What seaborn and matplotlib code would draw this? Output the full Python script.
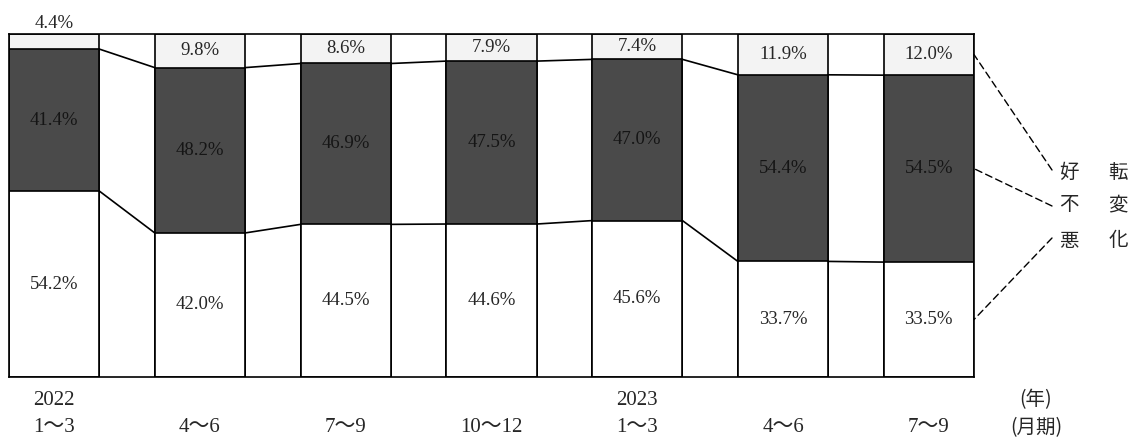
import numpy as np
import pandas as pd
import matplotlib
matplotlib.use('Agg')
import matplotlib.pyplot as plt
import seaborn as sns

# データ（%）
years = ['2022', '', '', '', '2023', '', '']
periods = ['1〜3', '4〜6', '7〜9', '10〜12', '1〜3', '4〜6', '7〜9']
good = [4.4, 9.8, 8.6, 7.9, 7.4, 11.9, 12.0]      # 好転
same = [41.4, 48.2, 46.9, 47.5, 47.0, 54.4, 54.5]  # 不変
bad = [54.2, 42.0, 44.5, 44.6, 45.6, 33.7, 33.5]   # 悪化

sns.set_style('white')
plt.rcParams['font.family'] = ['Liberation Serif', 'Noto Sans CJK JP', 'DejaVu Sans']

keys = [f'{y} {p} {i}' for i, (y, p) in enumerate(zip(years, periods))]
df = pd.DataFrame({'key': keys, 'good': good, 'same': same, 'bad': bad})
df['total'] = df['good'] + df['same'] + df['bad']
df['mid_top'] = df['bad'] + df['same']

W, H = 1132, 441
fig = plt.figure(figsize=(W / 100, H / 100), dpi=100)
ax = fig.add_axes([9 / W, (H - 377) / H, (974 - 9) / W, (377 - 34) / H])

bw = 0.62
edge = dict(edgecolor='black', linewidth=1.2)
# 積み上げ：上から重ねて描く
sns.barplot(data=df, x='key', y='total', color='#f3f3f3', width=bw, ax=ax, **edge)
sns.barplot(data=df, x='key', y='mid_top', color='#4a4a4a', width=bw, ax=ax, **edge)
sns.barplot(data=df, x='key', y='bad', color='white', width=bw, ax=ax, **edge)
for p in ax.patches:
    p.set_edgecolor('black')
    p.set_linewidth(1.2)
    p.set_alpha(1)

# 棒の間の連結線
n = len(df)
for i in range(n - 1):
    x0, x1 = i + bw / 2, i + 1 - bw / 2
    for col in ['bad', 'mid_top']:
        ax.plot([x0, x1], [df[col][i], df[col][i + 1]], color='black', lw=1.2)

# 数値ラベル
fs = 13.5
for i in range(n):
    ax.text(i, bad[i] / 2, f'{bad[i]:.1f}%', ha='center', va='center', fontsize=fs)
    ax.text(i, bad[i] + same[i] / 2, f'{same[i]:.1f}%', ha='center', va='center',
            fontsize=fs, color='#151515')
    if good[i] < 6:
        ax.text(i, 100.6, f'{good[i]:.1f}%', ha='center', va='bottom', fontsize=fs, clip_on=False)
    else:
        ax.text(i, 100 - good[i] / 2, f'{good[i]:.1f}%', ha='center', va='center', fontsize=fs)

ax.set_xlim(-bw / 2, n - 1 + bw / 2)
ax.set_ylim(0, 100)
ax.set_yticks([])
ax.set_xticks(range(n))
ax.set_xticklabels([f'{y}\n{p}' for y, p in zip(years, periods)], fontsize=15, linespacing=1.55)
ax.tick_params(axis='x', length=0, pad=10)
ax.set_xlabel('')
ax.set_ylabel('')
for s in ax.spines.values():
    s.set_visible(True)
    s.set_color('black')
    s.set_linewidth(1.2)

fig.text(1036 / W, (H - 389) / H, '(年)\n(月期)', ha='center', va='top', fontsize=14,
         linespacing=1.45, family=['Noto Sans CJK JP'])

# 右側の凡例（破線）
xr = n - 1 + bw / 2
legend_rows = [('好', '転', 100 - good[-1] / 2, 170, 172),
               ('不', '変', bad[-1] + same[-1] / 2, 206, 205),
               ('悪', '化', bad[-1] / 2, 238, 241)]
for c1, c2, yd, yend, ytxt in legend_rows:
    ax.annotate('', xy=(xr, yd), xytext=(1052, H - yend), textcoords='figure pixels',
                arrowprops=dict(arrowstyle='-', linestyle=(0, (5, 3)), lw=1, color='black',
                                shrinkA=0, shrinkB=0), annotation_clip=False)
    fig.text(1069 / W, (H - ytxt) / H, c1, ha='center', va='center', fontsize=14,
             family=['Noto Sans CJK JP'])
    fig.text(1118 / W, (H - ytxt) / H, c2, ha='center', va='center', fontsize=14,
             family=['Noto Sans CJK JP'])

fig.savefig('out.png', dpi=100)
